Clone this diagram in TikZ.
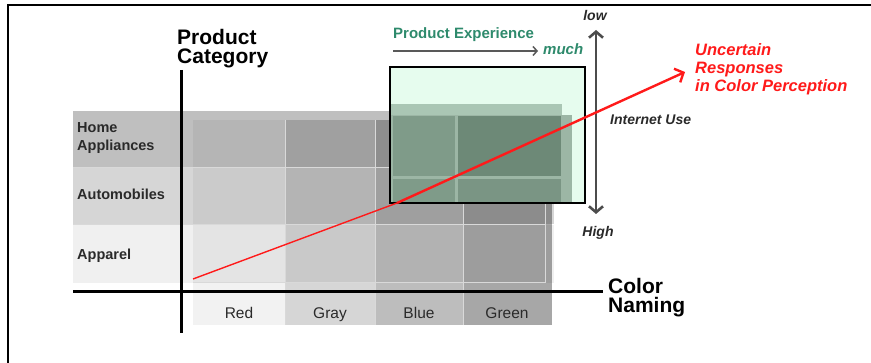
\documentclass[tikz,border=0pt]{standalone}
\usepackage{fontspec}
\setmainfont{Liberation Sans}
\usepackage{tikz}
\usetikzlibrary{arrows.meta}
\usetikzlibrary{positioning}

\definecolor{expgreen}{HTML}{2E8A6C}
\definecolor{boxmint}{HTML}{E6FCEE}
\definecolor{paneA}{HTML}{AAC6B4}
\definecolor{paneB}{HTML}{7F9B89}
\definecolor{paneC}{HTML}{6D8977}
\definecolor{uncred}{HTML}{FF1A1A}
\definecolor{txtgray}{HTML}{2A2A2A}

\tikzset{
  axisline/.style={line width=3pt},
  rowlab/.style={inner sep=0pt, text=txtgray, font=\fontsize{14.5}{18}\selectfont\bfseries, align=left},
  collab/.style={anchor=base, inner sep=0pt, text=txtgray, font=\fontsize{15.5}{18}\selectfont},
  axislab/.style={anchor=north west, inner sep=0pt, align=left, font=\fontsize{21}{19}\selectfont\bfseries},
  sidelab/.style={inner sep=0pt, text=txtgray, font=\fontsize{14}{17}\selectfont\bfseries\itshape},
  gridline/.style={white!85!black, line width=1pt},
}

\begin{document}
\begin{tikzpicture}[x=1pt, y=-1pt]
  \useasboundingbox (0,0) rectangle (871,363);
  \draw[line width=2.5pt] (8,364) -- (8,5) -- (872,5);

  % row and column shades
  \foreach \ya/\yb/\op in {111/167/0.25, 168/224/0.16, 225/283/0.06} {
    \fill[black, opacity=\op] (73,\ya) rectangle (554,\yb);
  }
  \foreach \xa/\xb/\op in {193/285/0.05, 285/375/0.16, 375/463/0.26, 463/552/0.345} {
    \fill[black, opacity=\op] (\xa,120) rectangle (\xb,325);
  }
  \foreach \x in {285, 375, 463} {
    \draw[gridline] (\x,120) -- (\x,325);
  }
  \foreach \y in {168, 225} {
    \draw[gridline] (73,\y) -- (545,\y);
  }
  \draw[gridline] (545,120) -- (545,283) -- (193,283);

  \node[rowlab, anchor=north west] (home) at (77,122) {Home\\Appliances};
  \node[rowlab, anchor=base west] (auto) at (77,200) {Automobiles};
  \node[rowlab, anchor=base west] (apparel) at (77,260) {Apparel};

  \foreach \cx/\lab in {239/Red, 330/Gray, 419/Blue, 507/Green} {
    \node[collab] (col-\lab) at (\cx,319) {\lab};
  }

  % axes
  \coordinate (ytop) at (181,70);
  \coordinate (ybot) at (181,333);
  \coordinate (xleft) at (73,292);
  \coordinate (xright) at (603,292);
  \draw[axisline] (ytop) -- (ybot);
  \draw[axisline] (xleft) -- (xright);
  \node[axislab] (prodcat) at (177,29) {Product\\Category};
  \node[axislab] (colnam) at (608,278) {Color\\Naming};

  % product experience pane
  \fill[boxmint] (390,67) rectangle (585,203);
  \fill[paneA] (391,104) rectangle (562,203);
  \fill[paneA!92!black] (391,115) rectangle (572,203);
  \fill[paneB] (393,116) rectangle (455,176);
  \fill[paneC] (458,116) rectangle (561,176);
  \fill[paneB] (393,179) rectangle (455,203);
  \fill[paneB!96!black] (458,179) rectangle (561,203);
  \node[draw, line width=2pt, minimum width=195pt, minimum height=136pt, inner sep=0pt] (expbox) at (487.5,135) {};

  \node[anchor=base west, inner sep=0pt, text=expgreen, font=\fontsize{15}{18}\selectfont\bfseries] (prodexp) at (393,39) {Product Experience};
  \node[anchor=base west, inner sep=0pt, text=expgreen, font=\fontsize{15}{18}\selectfont\bfseries\itshape] (much) at (543,55) {much};
  \coordinate (expstart) at (393,51);
  \draw[black!65, line width=1.5pt, shorten >=5pt, -{Straight Barb[length=4pt, width=9pt]}] (expstart) -- (much.west |- expstart);

  % internet use
  \coordinate (itop) at (596,30);
  \coordinate (ibot) at (596,214);
  \draw[black!70, line width=2.6pt, {Straight Barb[length=6pt, width=14pt]}-{Straight Barb[length=6pt, width=14pt]}] (itop) -- (ibot);
  \node[sidelab, anchor=base] (low) at (595,21) {low};
  \node[sidelab, anchor=base] (high) at (598,237) {High};
  \node[sidelab, anchor=base west] (inet) at (610,125) {Internet Use};

  % uncertain responses
  \coordinate (rstart) at (193,279);
  \coordinate (rmid) at (397,203);
  \coordinate (rtip) at (685,72);
  \draw[uncred, line width=1.4pt] (rstart) -- (rmid);
  \draw[uncred, line width=2.4pt, -{Straight Barb[length=7pt, width=15pt]}] (rmid) -- (rtip);
  \node[anchor=north west, inner sep=0pt, align=left, text=uncred, font=\fontsize{16.5}{18}\selectfont\bfseries\itshape] (uncert) at (695,43) {Uncertain\\Responses\\in Color Perception};
\end{tikzpicture}
\end{document}
